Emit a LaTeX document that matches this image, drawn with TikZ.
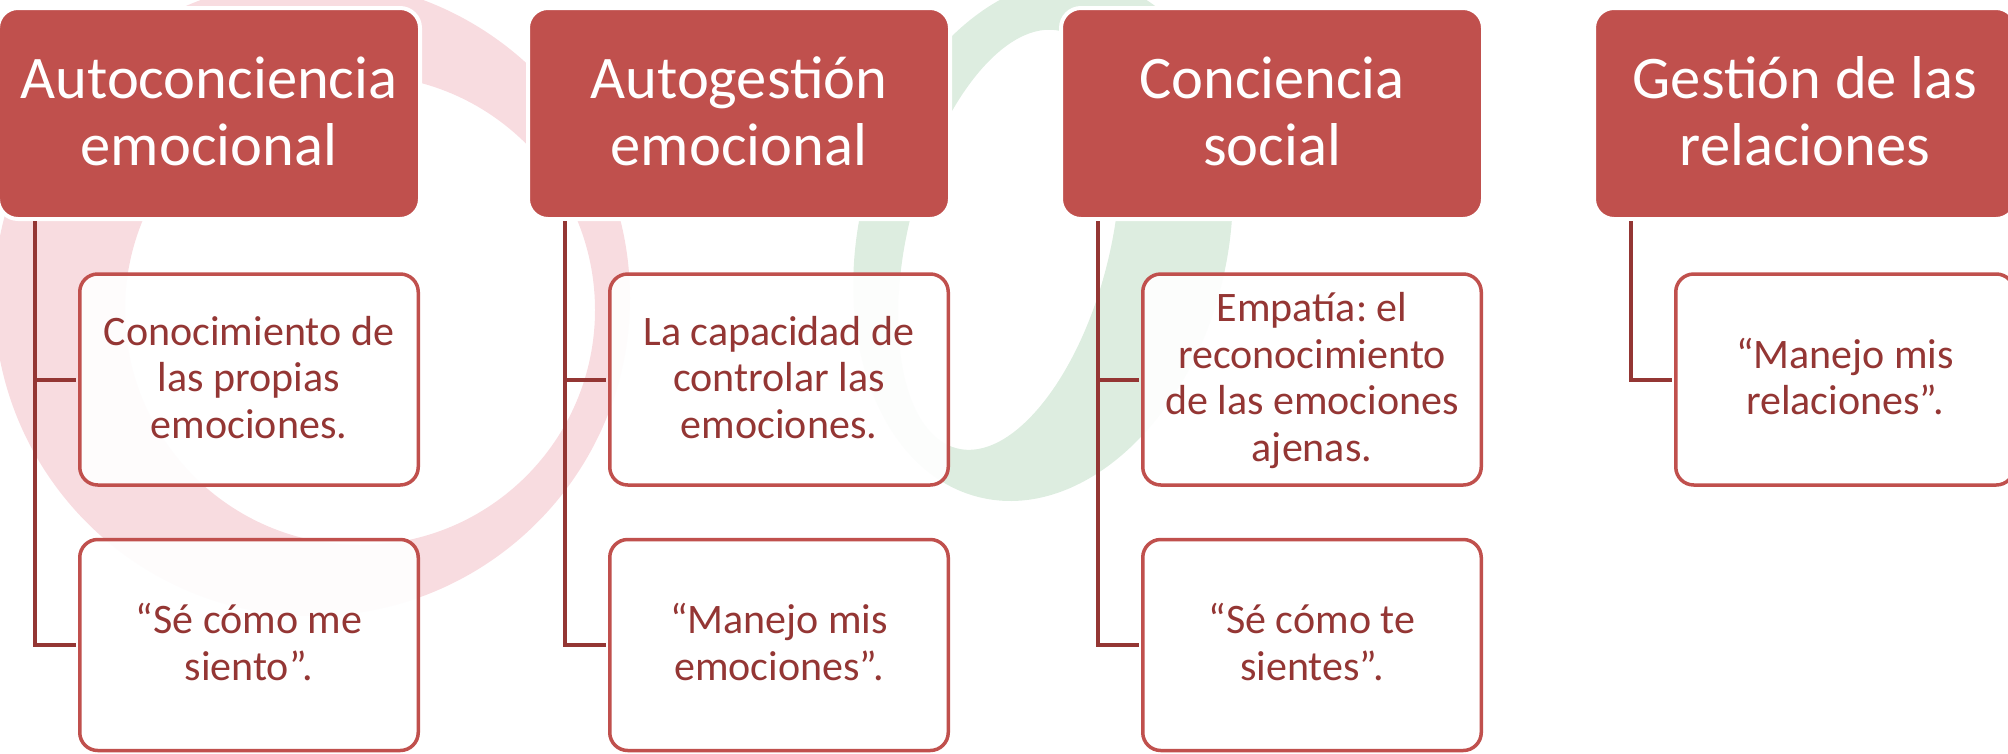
\documentclass[tikz,border=0pt]{standalone}
\usepackage{fontspec}
\setmainfont{Carlito}
\frenchspacing
\definecolor{acc}{HTML}{C0504D}
\definecolor{dk}{HTML}{943634}
\definecolor{conn}{HTML}{943634}
\definecolor{wpink}{HTML}{F8DCE0}
\definecolor{wgreen}{HTML}{DDEDE0}
\newcommand\hTop{\rule{0pt}{50pt}}
\newcommand\hBot{\rule[-14pt]{0pt}{14pt}}
\newcommand\kTop{\rule{0pt}{36pt}}
\newcommand\kBot{\rule[-12pt]{0pt}{12pt}}
\begin{document}
\begin{tikzpicture}[x=1pt,y=-1pt,
  hdr/.style={draw=white, line width=4pt, fill=acc, rounded corners=20pt,
    minimum width=422pt, minimum height=211pt, align=center, text=white,
    font=\fontsize{60.5}{67}\selectfont, inner sep=0pt},
  kid/.style={draw=acc, line width=3.5pt, fill=white, fill opacity=0.92, text opacity=1,
    rounded corners=18pt, minimum width=338.5pt, minimum height=211pt, align=center,
    text=dk, font=\fontsize{42}{46.5}\selectfont, inner sep=0pt},
  link/.style={draw=conn, line width=4pt, shorten >=1.75pt}
]
\useasboundingbox (0,0) rectangle (2008,753);
\clip (0,0) rectangle (2008,753);
% faint background watermark
\fill[wpink,even odd rule] (312,298) circle[radius=318pt] (360,310) circle[radius=235pt];
\begin{scope}[shift={(1043,240)},rotate=-14]
  \fill[wgreen,even odd rule] (0,0) ellipse[x radius=184pt,y radius=265pt]
    (-33,8) ellipse[x radius=101pt,y radius=215pt];
\end{scope}
% headers
\node[hdr] (h1) at (209,113.5) {\hTop Autoconciencia\\emocional\hBot};
\node[hdr] (h2) at (739,113.5) {\hTop Autogestión\\emocional\hBot};
\node[hdr] (h3) at (1272,113.5) {\hTop Conciencia\\social\hBot};
\node[hdr] (h4) at (1805,113.5) {\hTop Gestión de las\\relaciones\hBot};
% children
\node[kid] (k11) at (249,379.5) {\kTop Conocimiento de\\las propias\\emociones.\kBot};
\node[kid] (k12) at (249,645) {\kTop “Sé cómo me\\siento”.\kBot};
\node[kid] (k21) at (779,379.5) {\kTop La capacidad de\\controlar las\\emociones.\kBot};
\node[kid] (k22) at (779,645) {\kTop “Manejo mis\\emociones”.\kBot};
\node[kid] (k31) at (1312,379.5) {\kTop Empatía: el\\reconocimiento\\de las emociones\\ajenas.\kBot};
\node[kid] (k32) at (1312,645) {\kTop “Sé cómo te\\sientes”.\kBot};
\node[kid] (k41) at (1845,379.5) {\kTop “Manejo mis\\relaciones”.\kBot};
% connectors
\draw[link] ([xshift=39pt]h1.south west) |- (k11.west);
\draw[link] ([xshift=39pt]h1.south west) |- (k12.west);
\draw[link] ([xshift=39pt]h2.south west) |- (k21.west);
\draw[link] ([xshift=39pt]h2.south west) |- (k22.west);
\draw[link] ([xshift=39pt]h3.south west) |- (k31.west);
\draw[link] ([xshift=39pt]h3.south west) |- (k32.west);
\draw[link] ([xshift=39pt]h4.south west) |- (k41.west);
\end{tikzpicture}
\end{document}
